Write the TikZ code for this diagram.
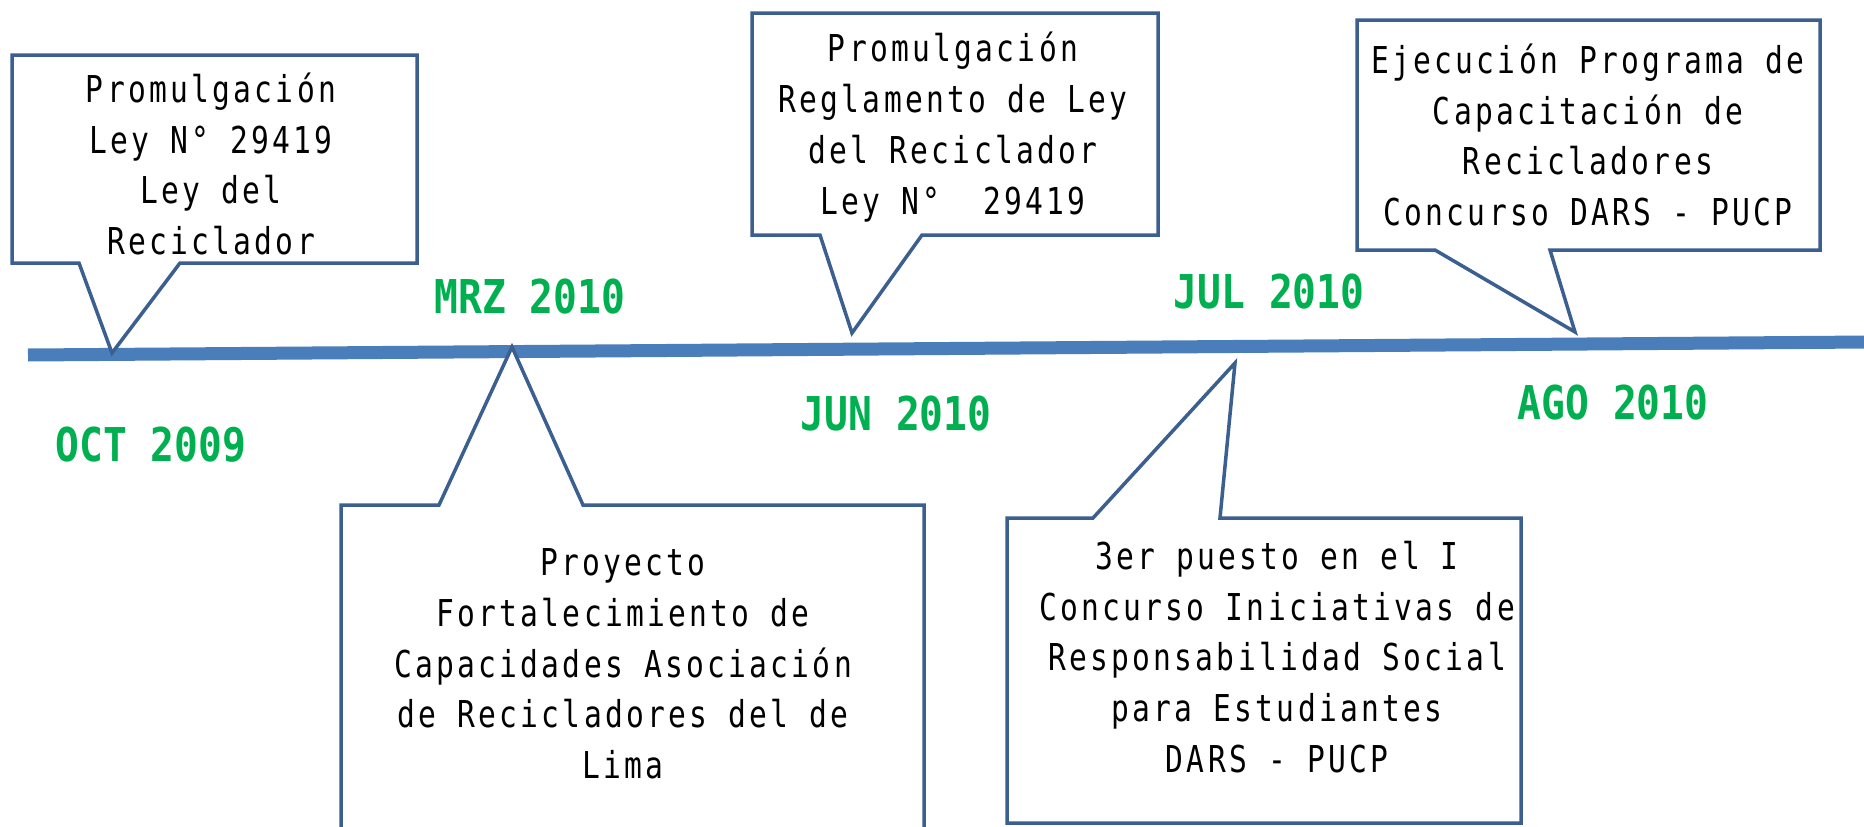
\documentclass[tikz,border=0pt]{standalone}
\usepackage{fontspec}
\setmainfont{DejaVu Sans}
\newfontfamily\boxfont[FakeStretch=0.8,LetterSpace=8.9]{DejaVu Sans Mono}
\newfontfamily\datefont[FakeStretch=0.85]{DejaVu Sans Mono}
\definecolor{tlblue}{HTML}{4A7EBB}
\definecolor{cobord}{HTML}{3B5F8F}
\definecolor{dategreen}{HTML}{00B050}
\begin{document}
\begin{tikzpicture}[x=1pt,y=-1pt,
  callout/.style={draw=cobord, line width=3.5, fill=white, line join=miter},
  txt/.style={align=center, inner sep=0, text=black, font=\boxfont\fontsize{37}{50.7}\selectfont},
  datelbl/.style={text=dategreen, inner sep=0, font=\datefont\bfseries\fontsize{46.6}{50}\selectfont}]
\clip (0,0) rectangle (1864,827);
\fill[white] (0,0) rectangle (1864,827);
% timeline
\coordinate (tl0) at (28,355);
\coordinate (tl1) at (1870,342);
\draw[tlblue, line width=13] (tl0) -- (tl1);
% callout tips
\coordinate (tipA) at (112,353);
\coordinate (tipB) at (852,333);
\coordinate (tipC) at (1575,332);
\coordinate (tipD) at (512,347);
\coordinate (tipE) at (1235,363);
% callout 1
\draw[callout] (12,55) -- (417,55) -- (417,263) -- (180,263) -- (tipA) -- (79,263) -- (12,263) -- cycle;
% callout 2
\draw[callout] (752,13) -- (1158,13) -- (1158,235) -- (922,235) -- (tipB) -- (820,235) -- (752,235) -- cycle;
% callout 3
\draw[callout] (1357,20) -- (1820,20) -- (1820,250) -- (1550,250) -- (tipC) -- (1435,250) -- (1357,250) -- cycle;
% callout 4
\draw[callout] (341,505) -- (439,505) -- (tipD) -- (583,505) -- (924,505) -- (924,850) -- (341,850) -- cycle;
% callout 5
\draw[callout] (1007,518) -- (1093,518) -- (tipE) -- (1220,518) -- (1521,518) -- (1521,823) -- (1007,823) -- cycle;
% texts
\node[txt] (t1) at (211,164) {Promulgación\\Ley N° 29419\\Ley del\\Reciclador};
\node[txt] (t2) at (953,127) {Promulgación\\Reglamento de Ley\\del Reciclador\\Ley N°\ \ 29419};
\node[txt] (t3) at (1588,135) {Ejecución Programa de\\Capacitación de\\Recicladores\\Concurso DARS - PUCP};
\node[txt] (t4) at (623,664) {Proyecto\\Fortalecimiento de\\Capacidades Asociación\\de Recicladores del de\\Lima};
\node[txt] (t5) at (1277,657) {3er puesto en el I\\Concurso Iniciativas de\\Responsabilidad Social\\para Estudiantes\\DARS - PUCP};
% dates
\node[datelbl] (d1) at (151,445) {OCT 2009};
\node[datelbl] (d2) at (530,297) {MRZ 2010};
\node[datelbl] (d3) at (896,414) {JUN 2010};
\node[datelbl] (d4) at (1269,292) {JUL 2010};
\node[datelbl] (d5) at (1613,403) {AGO 2010};
\end{tikzpicture}
\end{document}
